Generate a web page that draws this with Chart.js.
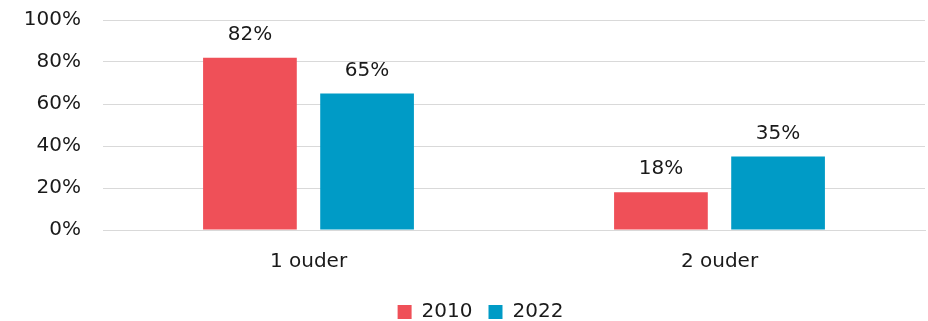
<!DOCTYPE html>
<html>
<head>
<meta charset="utf-8">
<script src="https://cdn.jsdelivr.net/npm/chart.js@4"></script>
<style>
  html, body { margin: 0; padding: 0; background: #ffffff; }
  #wrap { width: 928px; height: 321px; }
</style>
</head>
<body>
<div id="wrap"><canvas id="chart"></canvas></div>
<script>
const CATEGORIES = ["1 ouder", "2 ouder"];
const SERIES_LABELS = ["2010", "2022"];
const VALUES_2010 = [82, 18];
const VALUES_2022 = [65, 35];
const SERIES_COLORS = ["#EF5058", "#009BC6"];

const FONT = "'DejaVu Sans', sans-serif";
Chart.defaults.font.family = FONT;
Chart.defaults.font.size = 20;
Chart.defaults.color = "#1a1a1a";

// Draw the value above each bar
const valueLabels = {
  id: "valueLabels",
  afterDatasetsDraw: (chart) => {
    const { ctx } = chart;
    ctx.save();
    ctx.font = `20px ${FONT}`;
    ctx.fillStyle = "#1a1a1a";
    ctx.textAlign = "center";
    ctx.textBaseline = "bottom";
    chart.data.datasets.forEach((dataset, i) => {
      const meta = chart.getDatasetMeta(i);
      meta.data.forEach((bar, j) => {
        ctx.fillText(`${dataset.data[j]}%`, bar.x, bar.y - 13);
      });
    });
    ctx.restore();
  },
};

// The original legend sits a bit right of the canvas centre
const legendShift = {
  id: "legendShift",
  afterLayout: (chart) => {
    const legend = chart.legend;
    if (!legend) return;
    legend.left += 18;
    legend.right += 18;
  },
};

new Chart(document.getElementById("chart"), {
  type: "bar",
  data: {
    labels: CATEGORIES,
    datasets: [
      {
        label: SERIES_LABELS[0],
        data: VALUES_2010,
        backgroundColor: SERIES_COLORS[0],
        categoryPercentage: 0.57,
        barPercentage: 0.8,
      },
      {
        label: SERIES_LABELS[1],
        data: VALUES_2022,
        backgroundColor: SERIES_COLORS[1],
        categoryPercentage: 0.57,
        barPercentage: 0.8,
      },
    ],
  },
  options: {
    responsive: true,
    maintainAspectRatio: false,
    animation: false,
    layout: {
      padding: { top: 20, right: 3, bottom: -11, left: 0 },
    },
    scales: {
      x: {
        grid: { display: false },
        border: { display: true, color: "#d9d9d9" },
        ticks: { padding: 12, color: "#1a1a1a" },
      },
      y: {
        min: 0,
        max: 100,
        afterFit: (scale) => {
          scale.width = 103;
          scale.paddingTop = 0;
          scale.paddingBottom = 0;
        },
        ticks: {
          stepSize: 20,
          padding: 22,
          color: "#1a1a1a",
          callback: (value) => `${value}%`,
        },
        grid: { color: "#d9d9d9", drawTicks: false },
        border: { display: false },
      },
    },
    plugins: {
      legend: {
        position: "bottom",
        labels: {
          boxWidth: 14,
          boxHeight: 14,
          padding: 16,
          color: "#1a1a1a",
        },
      },
      tooltip: { enabled: false },
    },
  },
  plugins: [valueLabels, legendShift],
});
</script>
</body>
</html>
